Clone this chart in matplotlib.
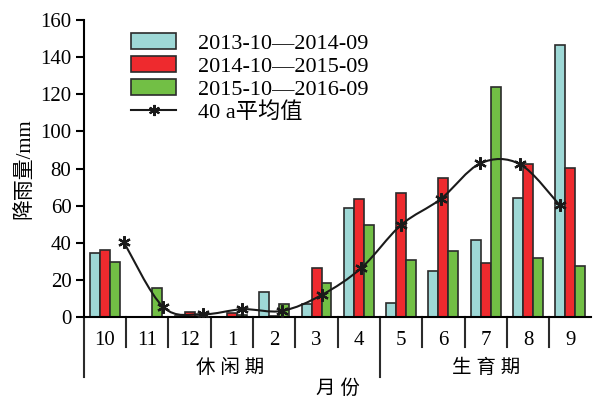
import matplotlib
matplotlib.use("Agg")
import matplotlib.pyplot as plt
from matplotlib.patches import Patch, PathPatch
from matplotlib.lines import Line2D
from matplotlib.path import Path
import numpy as np

plt.rcParams['font.family'] = ['Liberation Serif', 'Noto Sans CJK SC']

# Monthly rainfall (mm), Oct -> Sep
months = ['10', '11', '12', '1', '2', '3', '4', '5', '6', '7', '8', '9']
rain_1314 = [34.3, 0, 0.4, 0, 13.3, 7.0, 58.5, 7.7, 25.0, 41.5, 64.0, 146.6]
rain_1415 = [36.3, 0, 2.5, 2.2, 0.5, 26.6, 63.4, 66.6, 74.7, 29.3, 82.4, 80.1]
rain_1516 = [29.5, 15.6, 0.5, 1.0, 6.8, 18.1, 49.6, 30.7, 35.6, 123.8, 31.6, 27.5]
rain_avg40 = [40.6, 5.4, 1.5, 4.2, 3.3, 11.9, 26.5, 49.6, 63.6, 82.8, 82.3, 60.3]

series_labels = ['2013-10\u20142014-09', '2014-10\u20142015-09', '2015-10\u20142016-09']
avg_label = '40 a平均值'
colors = ['#9ed8d6', '#ee2a2e', '#72bf45']
edge = '#2b2b2b'

fig = plt.figure(figsize=(5.95, 3.97), dpi=100)
ax = fig.add_axes([0.141, 0.2015, 0.853, 0.748])

x = np.arange(len(months))
w = 0.236
for k, (vals, c) in enumerate(zip([rain_1314, rain_1415, rain_1516], colors)):
    ax.bar(x + (k - 1) * w, vals, width=w, color=c, edgecolor=edge, linewidth=1.2, zorder=2)

ax.set_xlim(-0.5, 11.5)
ax.set_ylim(0, 160)
ax.set_yticks(range(0, 161, 20))
ax.tick_params(axis='y', direction='out', length=6, width=1.5, labelsize=15, pad=3)
ax.set_xticks([])
for s in ['top', 'right']:
    ax.spines[s].set_visible(False)
ax.spines['left'].set_linewidth(1.5)
ax.spines['bottom'].set_linewidth(1.5)
ax.spines['left'].set_bounds(0, 160)

# month separators, period split, category labels below the axis
trans = matplotlib.transforms.blended_transform_factory(ax.transData, ax.transAxes)
for b in np.arange(0.5, 11.0, 1.0):
    bottom = -0.202 if b == 6.5 else -0.101
    ax.plot([b, b], [0, bottom], transform=trans, color=edge, lw=1.5, clip_on=False)
ax.plot([-0.5, -0.5], [0, -0.202], transform=trans, color=edge, lw=1.5, clip_on=False)
for i, m in enumerate(months):
    ax.text(i, -0.08, m, transform=trans, ha='center', va='center', fontsize=15)
ax.text(2.95, -0.172, '休 闲 期', transform=trans, ha='center', va='center', fontsize=14)
ax.text(9.0, -0.172, '生 育 期', transform=trans, ha='center', va='center', fontsize=14)
ax.text(5.5, -0.24, '月 份', transform=trans, ha='center', va='center', fontsize=14)
ax.set_ylabel('降雨量/mm', fontsize=15, labelpad=4)

# 40-year mean drawn as a smooth curve on its own x scale
ax2 = ax.twiny()
ax2.set_xlim(-1.0, 11.8)
ax2.set_ylim(0, 160)
ax2.axis('off')
pts = np.column_stack([x, rain_avg40]).astype(float)
verts = [pts[0]]
codes = [Path.MOVETO]
for i in range(len(pts) - 1):
    p0 = pts[max(i - 1, 0)]
    p1 = pts[i]
    p2 = pts[i + 1]
    p3 = pts[min(i + 2, len(pts) - 1)]
    verts += [p1 + (p2 - p0) / 6, p2 - (p3 - p1) / 6, p2]
    codes += [Path.CURVE4] * 3
ax2.add_patch(PathPatch(Path(verts, codes), fill=False, edgecolor='#1a1a1a', lw=1.5, zorder=3))
ax2.plot(x, rain_avg40, ls='none', marker=(6, 2, 0), ms=9, mew=1.6, color='#1a1a1a', zorder=4)

handles = [Patch(facecolor=c, edgecolor=edge, linewidth=1.2) for c in colors]
handles.append(Line2D([], [], color='#1a1a1a', lw=1.5, marker=(6, 2, 0), ms=8, mew=1.5))
ax.legend(handles, series_labels + [avg_label], loc='upper left', bbox_to_anchor=(0.076, 0.985),
          frameon=False, fontsize=16, handlelength=2.0, handleheight=0.7,
          handletextpad=1.0, labelspacing=0.1, borderaxespad=0)

fig.savefig('out.png', dpi=100)
